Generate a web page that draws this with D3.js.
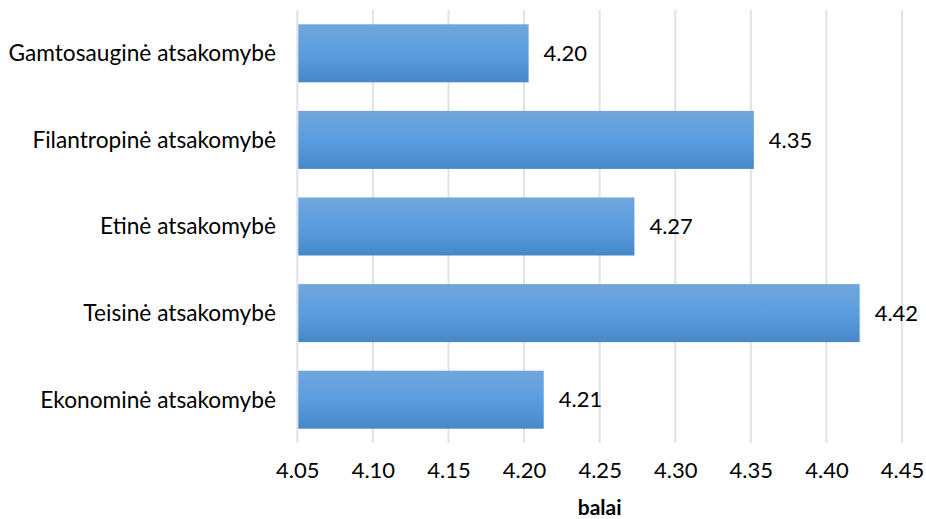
<!DOCTYPE html>
<html><head><meta charset="utf-8">
<script src="https://cdn.jsdelivr.net/npm/d3@7"></script>
<style>body{margin:0;background:#fff}svg{display:block}</style>
</head><body>
<script>
const categories = ["Gamtosauginė atsakomybė","Filantropinė atsakomybė","Etinė atsakomybė","Teisinė atsakomybė","Ekonominė atsakomybė"];
const values = [4.203, 4.352, 4.273, 4.422, 4.213];
const ticks = [4.05,4.10,4.15,4.20,4.25,4.30,4.35,4.40,4.45];
const axisTitle = "balai";

const W=926,H=519;
const m={left:297.3,right:W-902,top:10,bottom:H-443};
const svg=d3.select("body").append("svg").attr("width",W).attr("height",H);
const defs=svg.append("defs");
const g=defs.append("linearGradient").attr("id","bg").attr("x1",0).attr("x2",0).attr("y1",0).attr("y2",1);
g.append("stop").attr("offset","0%").attr("stop-color","#71a6dc");
g.append("stop").attr("offset","50%").attr("stop-color","#5b9ddf");
g.append("stop").attr("offset","100%").attr("stop-color","#4788c9");

const x=d3.scaleLinear().domain([4.05,4.45]).range([m.left,W-m.right]);
const y=d3.scaleBand().domain(categories).range([m.top,H-m.bottom]).paddingInner(0.33).paddingOuter(0.165);

svg.append("g").selectAll("line").data(ticks).join("line")
 .attr("x1",d=>x(d)).attr("x2",d=>x(d)).attr("y1",m.top).attr("y2",H-m.bottom)
 .attr("stroke","#dfe2e8").attr("stroke-width",2);

svg.append("g").selectAll("rect").data(values).join("rect")
 .attr("x",x(4.05)+1).attr("y",(d,i)=>y(categories[i]))
 .attr("width",d=>x(d)-x(4.05)-1).attr("height",y.bandwidth())
 .attr("fill","url(#bg)");

const font="Lato, 'Open Sans', sans-serif";
const fs=22;
svg.append("g").selectAll("text").data(values).join("text")
 .attr("x",d=>x(d)+15).attr("y",(d,i)=>y(categories[i])+y.bandwidth()/2)
 .attr("dy","0.35em").attr("font-family",font).attr("font-size",fs).attr("fill","#000")
 .text(d=>d3.format(".2f")(d));

svg.append("g").selectAll("text").data(categories).join("text")
 .attr("x",276).attr("y",d=>y(d)+y.bandwidth()/2).attr("dy","0.35em")
 .attr("text-anchor","end").attr("font-family",font).attr("font-size",22.7).attr("fill","#000")
 .text(d=>d);

const ax=d3.axisBottom(x).tickValues(ticks).tickFormat(d3.format(".2f")).tickSize(0).tickPadding(0);
const axg=svg.append("g").attr("transform",`translate(0,${H-m.bottom})`).call(ax);
axg.select(".domain").remove();
axg.selectAll("text").attr("font-family",font).attr("font-size",fs).attr("fill","#000").attr("dy",null).attr("y",35);

svg.append("text").attr("x",(x(4.05)+x(4.45))/2).attr("y",515).attr("text-anchor","middle")
 .attr("font-family",font).attr("font-size",fs-1).attr("font-weight","bold").attr("fill","#000").text(axisTitle);
</script>
</body></html>
